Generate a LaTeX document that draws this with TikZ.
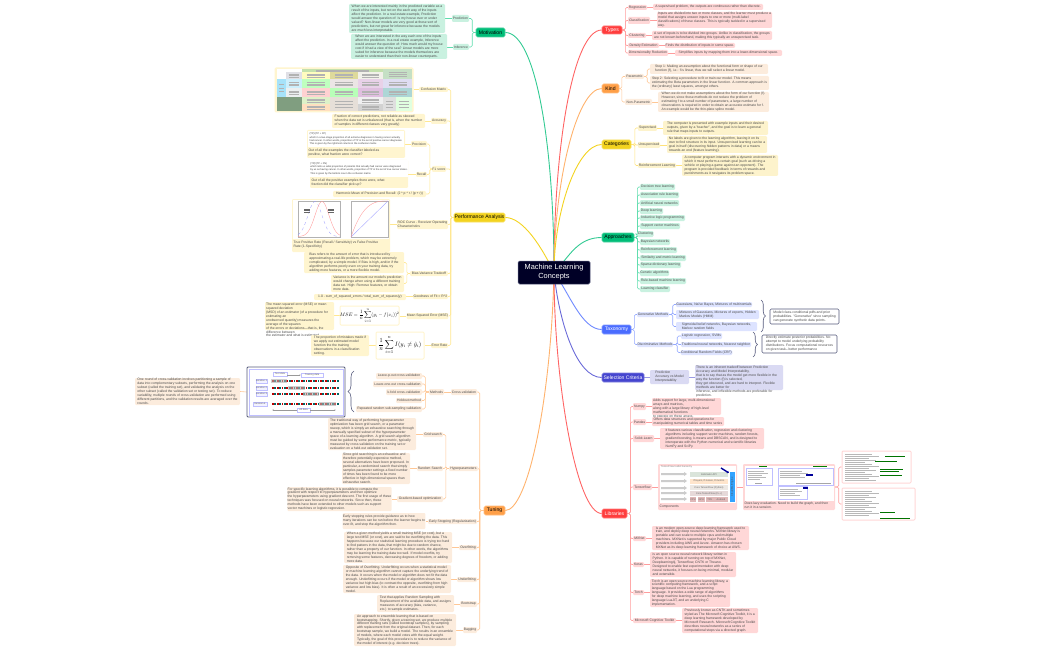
\documentclass[tikz,border=0pt]{standalone}
\usepackage{fontspec}
\setmainfont{Liberation Sans}
\usetikzlibrary{backgrounds,calc,decorations.pathreplacing,arrows.meta}
\definecolor{txt}{HTML}{4A4A4A}
\definecolor{fmot}{HTML}{C9F1E0}\definecolor{lmot}{HTML}{5FDDAE}
\definecolor{fper}{HTML}{FFF5CF}\definecolor{lper}{HTML}{FFE78F}
\definecolor{ftun}{HTML}{FCECDD}\definecolor{ltun}{HTML}{FFC795}
\definecolor{ftyp}{HTML}{FFD7D7}\definecolor{ltyp}{HTML}{FF9C9C}
\definecolor{fcat}{HTML}{FDF3CC}\definecolor{lcat}{HTML}{FFE27A}
\definecolor{ftax}{HTML}{DDE3FF}\definecolor{ltax}{HTML}{93A8FF}
\definecolor{fsel}{HTML}{DADAF3}\definecolor{lsel}{HTML}{9A9AE4}
\definecolor{slate}{HTML}{565A7C}
\definecolor{yelm}{HTML}{F3D31F}\definecolor{oram}{HTML}{FF9F47}\definecolor{redm}{HTML}{FF3D3D}\definecolor{grem}{HTML}{00BD78}\definecolor{blum}{HTML}{4A6CFF}\definecolor{indm}{HTML}{4545CF}
\newcommand{\tfn}{\fontsize{3.38}{3.95}\selectfont}
\newcommand{\mfn}{\fontsize{5.1}{6}\selectfont}
\newcommand{\sfn}{\fontsize{2.5}{3.1}\selectfont}
\tikzset{
 lab/.style={rectangle,rounded corners=1.2pt,inner sep=0.4pt,align=left,font=\tfn,text=txt},
 mot/.style={lab,fill=fmot}, per/.style={lab,fill=fper}, tun/.style={lab,fill=ftun},
 typ/.style={lab,fill=ftyp}, cat/.style={lab,fill=fcat}, tax/.style={lab,fill=ftax}, sel/.style={lab,fill=fsel},
 mainn/.style={rectangle,rounded corners=1.5pt,inner sep=0pt,font=\mfn,align=center,draw=#1!70!white,fill=#1,line width=0.6pt},
 wht/.style={rectangle,fill=white,inner sep=0.5pt,align=left,font=\sfn,text=black!75},
 imgp/.style={rectangle,rounded corners=1pt,draw=fper,line width=1pt,fill=white,inner sep=0pt},
 imgl/.style={rectangle,rounded corners=1pt,draw=ftyp,line width=1pt,fill=white,inner sep=0pt},
 note/.style={rectangle,rounded corners=1.2pt,draw=slate,line width=0.6pt,fill=white,inner sep=0.5pt,align=left,font=\tfn,text=txt},
 tree/.style={line width=0.6pt,rounded corners=1.5pt},
 bigl/.style={line width=0.9pt},
 mini/.style={rectangle,inner sep=0pt,font=\sfn,text=black!60,align=center},
}
\newcommand{\bx}[7]{\pgfmathsetlengthmacro\bw{(#4-#2)*1pt}\pgfmathsetlengthmacro\bh{(#5-#3)*1pt}%
 \node[#6,minimum width=\bw,minimum height=\bh] (#1) at ({(#2+#4)/2},{(#3+#5)/2}) {#7};}
\newcommand{\ovr}[7]{\pgfmathsetlengthmacro\bw{(#4-#2)*1pt}\pgfmathsetlengthmacro\bh{(#5-#3)*1pt}%
 \node[#6,minimum width=\bw,minimum height=\bh] (#1) at ({(#2+#4)/2},{(#3+#5)/2}) {};
 \node[#6,fill=none,anchor=north west] (#1t) at ({#2+0.6},{#3+0.3}) {#7};}
\newcommand{\brR}[4]{\draw[#1,tree] (#2.east) -- ++(#4,0) |- (#3.west);}
\newcommand{\brL}[4]{\draw[#1,tree] (#2.west) -- ++(-#4,0) |- (#3.east);}
\newcommand{\stR}[3]{\draw[#1,tree] (#2.east) -- (#2.east -| #3.west);}
\newcommand{\stL}[3]{\draw[#1,tree] (#2.west) -- (#2.west -| #3.east);}
\newcommand{\cel}[5]{\fill[fill=#5] (#1,#3) rectangle (#2,#4);
 \foreach \k in {0.3,0.5,0.7}{\draw[line width=0.3pt,black!30] ({#1+(#2-#1)*0.18},{#3+(#4-#3)*\k}) -- ({#2-(#2-#1)*0.18},{#3+(#4-#3)*\k});}}
\newcommand{\codel}[4]{\foreach \k in {1,...,#3}{\draw[line width=0.3pt,black!28] (#1,{#2+(\k-1)*2}) -- ({#1+#4*(0.6+0.4*mod(\k*7,5)/4)},{#2+(\k-1)*2});}}
\begin{document}
\begin{tikzpicture}[x=1pt,y=-1pt]
\useasboundingbox (0,0) rectangle (1050,650);
% ---------- centre
\bx{ctr}{518}{261}{590}{284}{rectangle,rounded corners=1.5pt,fill=black!85!blue,draw=slate,line width=0.5pt,text=white,font=\fontsize{7.4}{9}\selectfont,align=center}{Machine Learning\\Concepts}
% ---------- Motivation
\bx{motiv}{476}{28}{505}{37}{mainn=grem}{Motivation}
\bx{mPred}{452}{15}{469}{22}{mot}{Prediction}
\bx{mInf}{453}{44}{469}{50}{mot}{Inference}
\bx{mPredT}{349}{4}{445}{33}{mot}{When we are interested mainly in the predicted variable as a\\result of the inputs, but not on the each way of the inputs\\affect the prediction. In a real estate example, Prediction\\would answer the question of: Is my house over or under\\valued? Non-linear models are very good at these sort of\\predictions, but not great for inference because the models\\are much less interpretable.}
\bx{mInfT}{351}{34}{447}{59}{mot}{When we are interested in the way each one of the inputs\\affect the prediction. In a real estate example, Inference\\would answer the question of: How much would my house\\cost if it had a view of the sea? Linear models are more\\suited for inference because the models themselves are\\easier to understand than their non-linear counterparts.}
% ---------- Performance
\bx{perf}{454}{213}{505}{222}{mainn=yelm}{Performance Analysis}
\bx{pConf}{419}{87}{448}{92}{per}{Confusion Matrix}
\bx{pConfI}{275}{68}{413}{112}{imgp,fill=fper}{}
\begin{scope}[shift={(260,0)},x=0.33333pt,y=-0.33333pt]
\fill[white] (52,208) rectangle (457,333);
\cel{125}{370}{208}{216}{olive!35!green!30}
\cel{78}{125}{216}{237}{blue!10!gray!22}
\cel{125}{210}{216}{237}{yellow!25}
\cel{210}{293}{216}{237}{olive!30!white}
\cel{293}{370}{216}{237}{yellow!20!gray!15}
\cel{370}{457}{208}{237}{green!30!gray!35}
\cel{52}{78}{237}{290}{cyan!35}
\cel{78}{125}{237}{265}{cyan!20}
\cel{125}{210}{237}{265}{green!25!white}
\cel{210}{293}{237}{265}{red!12!gray!18}
\cel{293}{370}{237}{265}{violet!18}
\cel{370}{457}{237}{265}{cyan!15!blue!12}
\cel{78}{125}{265}{290}{cyan!12!gray!15}
\cel{125}{210}{265}{290}{red!18}
\cel{210}{293}{265}{290}{green!28!white}
\cel{293}{370}{265}{290}{violet!25}
\cel{370}{457}{265}{290}{teal!32}
\fill[black!40!green!25!gray!80] (52,290) rectangle (125,333);
\cel{125}{210}{290}{312}{yellow!40!green!22}
\cel{125}{210}{312}{333}{orange!25}
\cel{210}{293}{290}{333}{orange!22!gray!25}
\cel{293}{370}{290}{312}{blue!5!gray!12}
\cel{293}{370}{312}{333}{gray!35}
\cel{370}{407}{290}{333}{gray!25}
\cel{407}{457}{290}{333}{green!12}
\end{scope}
\bx{pAcc}{431}{118}{447}{124}{per}{Accuracy}
\bx{pAccT}{332}{114}{425}{128}{per}{Fraction of correct predictions, not reliable as skewed\\when the data set is unbalanced (that is, when the number\\of samples in different classes vary greatly)}
\bx{pF}{432}{166}{446}{172}{per}{F1 score}
\bx{pPrec}{411}{141}{427}{147}{per}{Precision}
\bx{pPrecT}{307}{130}{405}{158}{per}{}
\bx{pPrecW}{308}{131}{404}{147}{wht}{(TP)/(TP + FP)\\which in a two-stage proportion of all extreme diagnoses in having cancer actually\\had cancer. In other words, proportion of TP in the set of positive cancer diagnoses.\\This is given by the rightmost column in the confusion matrix.}
\node[per,fill=none,anchor=north west] (pPrecQ) at (308,148.5) {Out of all the examples the classifier labeled as\\positive, what fraction were correct?};
\bx{pRec}{416}{172}{427}{177}{per}{Recall}
\bx{pRecT}{310}{160}{408}{188}{per}{}
\bx{pRecW}{311}{160.5}{407}{177}{wht}{(TP)/(TP + FN)\\which tells us what proportion of patients that actually had cancer were diagnosed\\by us as having cancer. In other words, proportion of TP in the set of true cancer states.\\This is given by the bottom row in the confusion matrix.}
\node[per,fill=none,anchor=north west] (pRecQ) at (311,178.5) {Out of all the positive examples there were, what\\fraction did the classifier pick up?};
\bx{pHarm}{333}{191}{426}{197}{per}{Harmonic Mean of Precision and Recall: (2 * p * r / (p + r))}
\bx{pRoc}{397}{220}{448}{229}{per}{ROC Curve - Receiver Operating\\Characteristics}
\bx{pRocI}{292}{199}{390}{252}{per}{}
\fill[white] (293,200) rectangle (389,239);
\draw[line width=0.3pt,black!30] (298,201) rectangle (340,237);
\draw[line width=0.3pt,black!30] (351,201) rectangle (388,237);
\draw[blue!40,line width=0.3pt,dashed] plot[domain=298:340,samples=40] (\x,{236.5-35*exp(-((\x-315)*(\x-315))/98)});
\draw[red!40,line width=0.35pt] plot[domain=298:340,samples=40] (\x,{236.5-35*exp(-((\x-322)*(\x-322))/98)});
\foreach \yy in {209,210.5,212}{\draw[line width=0.3pt,black!60] (304,\yy) -- (310,\yy);\draw[line width=0.3pt,black!60] (328,\yy) -- (334,\yy);}
\draw[blue!40,line width=0.3pt] (351,237) -- (388,201);
\draw[red!40,line width=0.35pt] plot[domain=351:388,samples=30] (\x,{237-36*(1-((388-\x)/37)*((388-\x)/37)*((388-\x)/37))});
\node[per,fill=none,anchor=north west] (pRocT) at (293,240.5) {True Positive Rate (Recall / Sensitivity) vs False Positive\\Rate (1-Specificity)};
\bx{pBV}{410}{271}{448}{276}{per}{Bias-Variance Tradeoff}
\bx{pBias}{304}{252}{404}{273}{per}{Bias refers to the amount of error that is introduced by\\approximating a real-life problem, which may be extremely\\complicated, by a simple model. If Bias is high, and/or if the\\algorithm performs poorly even on your training data, try\\adding more features, or a more flexible model.}
\bx{pVar}{331}{275}{404}{292}{per}{Variance is the amount our model's prediction\\would change when using a different training\\data set. High: Remove features, or obtain\\more data.}
\bx{pGood}{413}{294}{448}{299}{per}{Goodness of Fit = R\textasciicircum 2}
\bx{pGoodT}{314}{294}{406}{300}{per}{1.0 - sum\_of\_squared\_errors / total\_sum\_of\_squares(y)}
\bx{pMse}{407}{313}{448}{319}{per}{Mean Squared Error (MSE)}
\bx{pMseI}{340}{306}{399}{325}{imgp}{}
\node[scale=0.5,inner sep=0pt] (pMseF) at (pMseI.center) {$\displaystyle MSE=\frac{1}{n}\sum_{i=1}^{n}(y_i-f(x_i))^2$};
\ovr{pMseT}{265}{302}{334}{330}{per}{The mean squared error (MSE) or mean\\squared deviation\\ (MSD) of an estimator (of a procedure for\\estimating an\\ unobserved quantity) measures the\\average of the squares\\ of the errors or deviations—that is, the\\difference between\\ the estimator and what is estimated.}
\bx{pErr}{431}{343}{448}{348}{per}{Error Rate}
\bx{pErrI}{376}{332}{424}{359}{imgp}{}
\node[scale=0.62,inner sep=0pt] (pErrF) at (pErrI.center) {$\displaystyle \frac{1}{n}\sum_{i=1}^{n}I(y_i\neq\hat y_i)$};
\bx{pErrT}{311}{335}{369}{356}{per}{The proportion of mistakes made if\\we apply out estimated model\\function the the training\\observations in a classification\\setting.}
% ---------- Tuning
\bx{tune}{484}{506}{505}{515}{mainn=oram}{Tuning}
\bx{tCV}{451}{389}{477}{395}{tun}{Cross-validation}
\bx{tMeth}{429}{389}{444}{395}{tun}{Methods}
\bx{tM1}{376}{373}{422}{379}{tun}{Leave-p-out cross-validation}
\bx{tM2}{373}{381}{422}{387}{tun}{Leave-one-out cross-validation}
\bx{tM3}{386}{389}{422}{395}{tun}{k-fold cross-validation}
\bx{tM4}{396}{398}{422}{403}{tun}{Holdout method}
\bx{tM5}{356}{406}{422}{412}{tun}{Repeated random sub-sampling validation}
\bx{tCVI}{247}{367}{345}{417}{rectangle,rounded corners=1pt,draw=slate,line width=0.8pt,fill=white}{}
\draw[blue!25,line width=0.6pt] (249,369) rectangle (343,415);
\bx{tCVT}{135}{378}{240}{405}{tun}{One round of cross-validation involves partitioning a sample of\\data into complementary subsets, performing the analysis on one\\subset (called the training set), and validating the analysis on the\\other subset (called the validation set or testing set). To reduce\\variability, multiple rounds of cross-validation are performed using\\different partitions, and the validation results are averaged over the\\rounds.}
\bx{cvTest}{273}{372}{287}{376}{mini,draw=blue!25,line width=0.3pt,fill=white}{Test data}
\bx{cvTrain}{301}{373}{323}{377}{mini,draw=blue!25,line width=0.3pt,fill=white}{Training data}
\bx{cvAll}{297}{408}{310}{412}{mini,draw=blue!25,line width=0.3pt,fill=white}{All data}
\bx{cvI1}{256}{379}{267}{383}{mini,draw=blue!25,line width=0.3pt,fill=blue!5}{Iteration 1}
\bx{cvI2}{256}{386}{267}{390}{mini,draw=blue!25,line width=0.3pt,fill=blue!5}{Iteration 2}
\bx{cvI3}{256}{392}{267}{396}{mini,draw=blue!25,line width=0.3pt,fill=blue!5}{Iteration 3}
\bx{cvIk}{253}{402}{267}{406}{mini,draw=blue!25,line width=0.3pt,fill=blue!5}{Iteration k}
\foreach \ry/\ta/\tb in {381/271/287,388/288/305,394/303/319,404/319/336}{
 \foreach \i in {0,...,27}{
  \pgfmathsetmacro\xx{272+\i*2.4}
  \pgfmathtruncatemacro\mm{mod(\i,2)}
  \ifnum\mm=0 \fill[red!75!black] (\xx,\ry-1) rectangle ++(1.8,2); \else \fill[teal!80!black] (\xx,\ry-1) rectangle ++(1.8,2); \fi}
 \fill[gray!60,opacity=.6] (\ta,\ry-2) rectangle (\tb,\ry+2);}
\draw[black!40,line width=0.3pt,-{Latex[length=1.5pt]}] (287,375) -- (301,375);
\draw[black!40,line width=0.3pt,{Latex[length=1.5pt]}-] (272,410) -- (297,410);
\draw[black!40,line width=0.3pt,-{Latex[length=1.5pt]}] (310,410) -- (336,410);
\bx{tHyp}{449}{466}{478}{471}{tun}{Hyperparameters}
\bx{tGrid}{423}{432}{443}{437}{tun}{Grid search}
\bx{tGridT}{328}{418}{416}{450}{tun}{The traditional way of performing hyperparameter\\optimization has been grid search, or a parameter\\sweep, which is simply an exhaustive searching through\\a manually specified subset of the hyperparameter\\space of a learning algorithm. A grid search algorithm\\must be guided by some performance metric, typically\\measured by cross-validation on the training set or\\evaluation on a held-out validation set.}
\bx{tRand}{417}{466}{443}{471}{tun}{Random Search}
\bx{tRandT}{342}{453}{410}{484}{tun}{Since grid searching is an exhaustive and\\therefore potentially expensive method,\\several alternatives have been proposed. In\\particular, a randomized search that simply\\samples parameter settings a fixed number\\of times has been found to be more\\effective in high-dimensional spaces than\\exhaustive search.}
\bx{tGrad}{397}{496}{443}{502}{tun}{Gradient-based optimization}
\bx{tGradT}{288}{487}{391}{511}{tun}{For specific learning algorithms, it is possible to compute the\\gradient with respect to hyperparameters and then optimize\\the hyperparameters using gradient descent. The first usage of these\\techniques was focused on neural networks. Since then, these\\methods have been extended to other models such as support\\vector machines or logistic regression.}
\bx{tEarly}{428}{519}{477}{524}{tun}{Early Stopping (Regularization)}
\bx{tEarlyT}{346}{513}{422}{529}{tun}{Early stopping rules provide guidance as to how\\many iterations can be run before the learner begins to\\over-fit, and stop the algorithm then.}
\bx{tOver}{459}{545}{477}{550}{tun}{Overfitting}
\bx{tOverT}{344}{532}{452}{563}{tun}{When a given method yields a small training MSE (or cost), but a\\large test MSE (or cost), we are said to be overfitting the data. This\\happens because our statistical learning procedure is trying too hard\\to find pattens in the data, that might be due to random chance,\\rather than a property of our function. In other words, the algorithms\\may be learning the training data too well. If model overfits, try\\removing some features, decreasing degrees of freedom, or adding\\more data.}
\bx{tUnder}{457}{577}{477}{582}{tun}{Underfitting}
\bx{tUnderT}{343}{565}{451}{593}{tun}{Opposite of Overfitting. Underfitting occurs when a statistical model\\or machine learning algorithm cannot capture the underlying trend of\\the data. It occurs when the model or algorithm does not fit the data\\enough. Underfitting occurs if the model or algorithm shows low\\variance but high bias (to contrast the opposite, overfitting from high\\variance and low bias). It is often a result of an excessively simple\\model.}
\bx{tBoot}{460}{601}{477}{607}{tun}{Bootstrap}
\bx{tBootT}{377}{595}{454}{612}{tun}{Test that applies Random Sampling with\\Replacement of the available data, and assigns\\measures of accuracy (bias, variance,\\etc.) to sample estimates.}
\bx{tBag}{463}{627}{477}{633}{tun}{Bagging}
\bx{tBagT}{354}{614}{456}{646}{tun}{An approach to ensemble learning that is based on\\bootstrapping. Shortly, given a training set, we produce multiple\\different training sets (called bootstrap samples), by sampling\\with replacement from the original dataset. Then, for each\\bootstrap sample, we build a model. The results in an ensemble\\of models, where each model votes with the equal weight.\\Typically, the goal of this procedure is to reduce the variance of\\the model of interest (e.g. decision trees).}
% ---------- Types
\bx{types}{602}{26}{622}{34}{mainn=redm,text=white}{Types}
\bx{yReg}{628}{5}{647}{10}{typ}{Regression}
\bx{yRegT}{653}{4}{763}{10}{typ}{A supervised problem, the outputs are continuous rather than discrete.}
\bx{yCla}{628}{17}{650}{24}{typ}{Classification}
\bx{yClaT}{657}{12}{772}{28}{typ}{Inputs are divided into two or more classes, and the learner must produce a\\model that assigns unseen inputs to one or more (multi-label\\classifications) of these classes. This is typically tackled in a supervised\\way.}
\bx{yClu}{628}{33}{646}{38}{typ}{Clustering}
\bx{yCluT}{652}{31}{772}{40}{typ}{A set of inputs is to be divided into groups. Unlike in classification, the groups\\are not known beforehand, making this typically an unsupervised task.}
\bx{yDen}{628}{43}{659}{48}{typ}{Density Estimation}
\bx{yDenT}{665}{43}{735}{48}{typ}{Finds the distribution of inputs in some space.}
\bx{yDim}{628}{50}{668}{56}{typ}{Dimensionality Reduction}
\bx{yDimT}{675}{50}{782}{56}{typ}{Simplifies inputs by mapping them into a lower-dimensional space.}
% ---------- Kind
\bx{kind}{602}{84}{619}{93}{mainn=oram}{Kind}
\bx{kPar}{625}{74}{644}{79}{tun}{Parametric}
\bx{kS1}{650}{64}{768}{74}{tun}{Step 1: Making an assumption about the functional form or shape of our\\function (f), i.e.: f is linear, thus we will select a linear model.}
\bx{kS2}{650}{76}{769}{90}{tun}{Step 2: Selecting a procedure to fit or train our model. This means\\estimating the Beta parameters in the linear function. A common approach is\\the (ordinary) least squares, amongst others.}
\bx{kNon}{625}{99}{652}{105}{tun}{Non-Parametric}
\bx{kNonT}{658}{92}{769}{112}{tun}{When we do not make assumptions about the form of our function (f).\\However, since these methods do not reduce the problem of\\estimating f to a small number of parameters, a large number of\\observations is required in order to obtain an accurate estimate for f.\\An example would be the thin-plate spline model.}
% ---------- Categories
\bx{cats}{602}{140}{631}{149}{mainn=yelm}{Categories}
\bx{cSup}{638}{125}{657}{131}{cat}{Supervised}
\bx{cSupT}{663}{121}{768}{135}{cat}{The computer is presented with example inputs and their desired\\outputs, given by a "teacher", and the goal is to learn a general\\rule that maps inputs to outputs.}
\bx{cUns}{638}{142}{660}{148}{cat}{Unsupervised}
\bx{cUnsT}{667}{136}{767}{153}{cat}{No labels are given to the learning algorithm, leaving it on its\\own to find structure in its input. Unsupervised learning can be a\\goal in itself (discovering hidden patterns in data) or a means\\towards an end (feature learning).}
\bx{cRei}{638}{163}{676}{168}{cat}{Reinforcement Learning}
\bx{cReiT}{682}{155}{778}{176}{cat}{A computer program interacts with a dynamic environment in\\which it must perform a certain goal (such as driving a\\vehicle or playing a game against an opponent). The\\program is provided feedback in terms of rewards and\\punishments as it navigates its problem space.}
% ---------- Approaches
\bx{appr}{602}{233}{634}{242}{mainn=grem}{Approaches}
\bx{a1}{640}{184}{675}{190}{mot}{Decision tree learning}
\bx{a2}{640}{192}{679}{198}{mot}{Association rule learning}
\bx{a3}{640}{200}{679}{206}{mot}{Artificial neural networks}
\bx{a4}{640}{208}{663}{214}{mot}{Deep learning}
\bx{a5}{640}{215}{685}{221}{mot}{Inductive logic programming}
\bx{a6}{640}{223}{680}{229}{mot}{Support vector machines}
\bx{a7}{640}{231}{651}{237}{mot}{Clustering}
\bx{a8}{640}{239}{670}{245}{mot}{Bayesian networks}
\bx{a9}{640}{247}{677}{253}{mot}{Reinforcement learning}
\bx{a10}{640}{255}{686}{261}{mot}{Similarity and metric learning}
\bx{a11}{640}{262}{681}{268}{mot}{Sparse dictionary learning}
\bx{a12}{640}{270}{669}{276}{mot}{Genetic algorithms}
\bx{a13}{640}{278}{686}{284}{mot}{Rule-based machine learning}
\bx{a14}{640}{286}{670}{292}{mot}{Learning classifier}
% ---------- Taxonomy
\bx{taxo}{602}{325}{631}{334}{mainn=blum,text=white}{Taxonomy}
\bx{xGen}{637}{312}{669}{317}{tax}{Generative Methods}
\bx{xDis}{637}{342}{673}{347}{tax}{Discriminative Methods}
\bx{xG1}{676}{302}{752}{307}{tax}{Gaussians, Naïve Bayes, Mixtures of multinomials}
\bx{xG2}{676}{310}{759}{319}{tax}{Mixtures of Gaussians, Mixtures of experts, Hidden\\Markov Models (HMM)}
\bx{xG3}{676}{322}{757}{331}{tax}{Sigmoidal belief networks, Bayesian networks,\\Markov random fields}
\bx{xD1}{681}{333}{722}{339}{tax}{Logistic regression, SVMs}
\bx{xD2}{681}{342}{751}{347}{tax}{Traditional neural networks, Nearest neighbor}
\bx{xD3}{681}{350}{732}{355}{tax}{Conditional Random Fields (CRF)}
\bx{xNG}{770}{309}{839}{324}{note}{Model class-conditional pdfs and prior\\probabilities. "Generative" since sampling\\can generate synthetic data points.}
\bx{xND}{762}{335}{837}{353}{note}{Directly estimate posterior probabilities. No\\attempt to model underlying probability\\distributions. Focus computational resources\\on given task– better performance}
% ---------- Selection
\bx{selc}{602}{373}{644}{382}{mainn=indm,text=white}{Selection Criteria}
\bx{sPA}{650}{370}{689}{384}{sel}{Prediction\\Accuracy vs Model\\Interpretability}
\ovr{sPAT}{695}{365}{783}{390}{sel}{There is an inherent tradeoff between Prediction\\Accuracy and Model Interpretability,\\that is to say that as the model get more flexible in the\\way the function (f) is selected,\\they get obscured, and are hard to interpret. Flexible\\methods are better for\\ inference, and inflexible methods are preferable for\\prediction.}
% ---------- Libraries
\bx{libs}{602}{509}{627}{518}{mainn=redm,text=white}{Libraries}
\bx{lNum}{633}{403}{646}{410}{typ}{Numpy}
\ovr{lNumT}{652}{398}{721}{415}{typ}{Adds support for large, multi-dimensional\\arrays and matrices,\\ along with a large library of high-level\\mathematical functions\\to operate on these arrays.}
\bx{lPan}{633}{419}{646}{425}{typ}{Pandas}
\bx{lPanT}{652}{417}{724}{426}{typ}{Offers data structures and operations for\\manipulating numerical tables and time series}
\bx{lSci}{633}{435}{654}{442}{typ}{Scikit-Learn}
\bx{lSciT}{660}{428}{764}{449}{typ}{It features various classification, regression and clustering\\algorithms including support vector machines, random forests,\\gradient boosting, k-means and DBSCAN, and is designed to\\interoperate with the Python numerical and scientific libraries\\NumPy and SciPy.}
\bx{lTf}{633}{484}{652}{490}{typ}{Tensorflow}
\bx{lTf1}{658}{464}{737}{510}{typ}{}
\fill[white] (660,465.5) rectangle (735.5,503);
\node[mini,anchor=west,text=black!50] (tfTitle) at (661,467) {TensorFlow toolkit hierarchy};
\foreach \yy in {474,481,488,493,499}{\fill[black!20] (661,\yy-1) -- (684,\yy-1) -- (684,\yy-2) -- (687,\yy) -- (684,\yy+2) -- (684,\yy+1) -- (661,\yy+1) -- cycle;}
\bx{tfA}{690}{472}{728}{477}{mini,fill=green!15!gray!25}{Estimator API}
\bx{tfB}{690}{478.5}{728}{483.5}{mini,fill=orange!20}{tf.layers, tf.losses, tf.metrics}
\bx{tfC}{690}{485}{728}{490}{mini,fill=orange!18!gray!18}{Core TensorFlow (Python)}
\bx{tfD}{690}{491}{728}{496}{mini,fill=red!20!gray!25}{Core TensorFlow (C++)}
\bx{tfE}{690}{497}{696}{502}{mini,fill=red!40!gray!40}{CPU}
\bx{tfF}{697.5}{497}{705}{502}{mini,fill=red!40!gray!40}{GPU}
\bx{tfG}{706}{497}{713.5}{502}{mini,fill=red!40!gray!40}{TPU}
\bx{tfH}{714}{497}{728}{502}{mini,fill=red!40!gray!40}{Android}
\bx{tfCol}{730}{472}{734.5}{502}{rectangle,inner sep=0pt,fill=blue!45!cyan!80}{}
\node[rotate=90,font=\sfn,text=black!70,inner sep=0pt] (tfColT) at (tfCol.center) {Cloud ML Engine};
\draw[blue!60!black,line width=1.4pt,-{Latex[length=2pt,width=3pt]}] (721,468) -- (729,473);
\node[typ,fill=none,anchor=west] (tfComp) at (659,507) {Components};
\bx{lTf2}{743}{464}{835}{510}{typ}{}
\fill[white] (745,465.5) rectangle (833.5,500.5);
\draw[blue!25,line width=0.5pt] (746,468) rectangle (772,485);
\draw[blue!25,line width=0.5pt] (778,468) rectangle (833,485);
\draw[blue!25,line width=0.5pt] (778,486) rectangle (807,499);
\draw[green!50!black,line width=0.6pt] (759,466) -- (767,466);
\draw[green!50!black,line width=0.6pt] (813,466) -- (827,466);
\codel{748}{471}{5}{20}\codel{780}{471}{4}{28}\codel{780}{489}{4}{22}
\draw[line width=0.3pt,black!35] (755,483) -- (762,483);
\draw[line width=0.3pt,black!35] (796,483) -- (831,483);
\fill[blue!60!black] (806,474) rectangle (813,476);
\fill[blue!60!black] (803,487) rectangle (808,489);
\node[typ,fill=none,anchor=north west] (tfLazy) at (744,501.5) {Does lazy evaluation. Need to build the graph, and then\\run it in a session.};
\bx{lTf3}{842}{451}{911}{483}{imgl}{}
\codel{845}{454}{14}{34}
\foreach \yy/\xa/\xb in {456/885/905,461/875/897,469/880/903,475/880/902,471/880/899}{\draw[green!45!black,line width=0.4pt] (\xa,\yy) -- (\xb,\yy);}
\bx{lTf4}{842}{488}{915}{520}{imgl}{}
\codel{845}{491}{13}{34}
\foreach \yy/\xa/\xb in {512/880/895,518/880/910}{\draw[green!45!black,line width=0.4pt] (\xa,\yy) -- (\xb,\yy);}
\bx{lMx}{633}{536}{646}{541}{typ}{MXNet}
\bx{lMxT}{652}{526}{749}{550}{typ}{is an modern open-source deep learning framework used to\\train, and deploy deep neural networks. MXNet library is\\portable and can scale to multiple cpus and multiple\\machines. MXNet is supported by major Public Cloud\\providers including AWS and Azure. Amazon has chosen\\MXNet as its deep learning framework of choice at AWS.}
\bx{lKe}{633}{562}{644}{567}{typ}{Keras}
\bx{lKeT}{650}{552}{736}{577}{typ}{is an open source neural network library written in\\Python. It is capable of running on top of MXNet,\\Deeplearning4j, Tensorflow, CNTK or Theano.\\Designed to enable fast experimentation with deep\\neural networks, it focuses on being minimal, modular\\and extensible.}
\bx{lTo}{633}{590}{644}{595}{typ}{Torch}
\bx{lToT}{650}{579}{730}{607}{typ}{Torch is an open source machine learning library, a\\scientific computing framework, and a script\\language based on the Lua programming\\language. It provides a wide range of algorithms\\for deep machine learning, and uses the scripting\\language LuaJIT, and an underlying C\\implementation.}
\bx{lMs}{633}{618}{676}{623}{typ}{Microsoft Cognitive Toolkit}
\bx{lMsT}{682}{608}{758}{633}{typ}{Previously known as CNTK and sometimes\\styled as The Microsoft Cognitive Toolkit, it is a\\deep learning framework developed by\\Microsoft Research. Microsoft Cognitive Toolkit\\describes neural networks as a series of\\computational steps via a directed graph.}
% ---------- braces
\coordinate (bCVa) at (354,412); \coordinate (bCVb) at (354,371);
\coordinate (bGa) at (761,300); \coordinate (bGb) at (761,332);
\coordinate (bDa) at (753,332); \coordinate (bDb) at (753,357);
\draw[slate,line width=0.6pt,decorate,decoration={brace,amplitude=6pt}] (bCVa) -- (bCVb);
\draw[slate,line width=0.6pt,decorate,decoration={brace,amplitude=4.5pt}] (bGa) -- (bGb);
\draw[slate,line width=0.6pt,decorate,decoration={brace,amplitude=4.5pt}] (bDa) -- (bDb);
% ---------- connectors
\begin{scope}[on background layer]
\draw[grem!80,bigl] (motiv.east) .. controls +(30,0) and +(0,-130) .. (ctr.center);
\draw[yelm,bigl] (perf.east) .. controls +(18,0) and +(-12,-25) .. (ctr.center);
\draw[oram!80,bigl] (tune.east) .. controls +(22,0) and +(-3,130) .. (ctr.center);
\draw[redm!80,bigl] (types.west) .. controls +(-28,0) and +(0,-130) .. (ctr.center);
\draw[oram!80,bigl] (kind.west) .. controls +(-25,0) and +(0,-90) .. (ctr.center);
\draw[yelm,bigl] (cats.west) .. controls +(-25,0) and +(0,-60) .. (ctr.center);
\draw[grem!80,bigl] (appr.west) .. controls +(-25,0) and +(15,-15) .. (ctr.center);
\draw[blum!80,bigl] (taxo.west) .. controls +(-20,0) and +(15,20) .. (ctr.center);
\draw[indm!80,bigl] (selc.west) .. controls +(-25,0) and +(5,50) .. (ctr.center);
\draw[redm!80,bigl] (libs.west) .. controls +(-25,0) and +(0,110) .. (ctr.center);
% Motivation
\foreach \c in {mPred,mInf}{\brL{lmot}{motiv}{\c}{3.5}}
\stL{lmot}{mPred}{mPredT}\stL{lmot}{mInf}{mInfT}
% Performance
\foreach \c in {pConf,pAcc,pF,pRoc,pBV,pGood,pMse,pErr}{\brL{lper}{perf}{\c}{3}}
\stL{lper}{pConf}{pConfI}\stL{lper}{pAcc}{pAccT}
\foreach \c in {pPrec,pRec,pHarm}{\brL{lper}{pF}{\c}{2}}
\stL{lper}{pPrec}{pPrecT}\stL{lper}{pRec}{pRecT}
\stL{lper}{pRoc}{pRocI}
\foreach \c in {pBias,pVar}{\brL{lper}{pBV}{\c}{3}}
\stL{lper}{pGood}{pGoodT}\stL{lper}{pMse}{pMseI}\stL{lper}{pMseI}{pMseT}
\stL{lper}{pErr}{pErrI}\stL{lper}{pErrI}{pErrT}
% Tuning
\foreach \c in {tCV,tHyp,tEarly,tOver,tUnder,tBoot,tBag}{\brL{ltun}{tune}{\c}{4}}
\stL{ltun}{tCV}{tMeth}
\foreach \c in {tM1,tM2,tM3,tM4,tM5}{\brL{ltun}{tMeth}{\c}{3.5}}
\foreach \c in {tGrid,tRand,tGrad}{\brL{ltun}{tHyp}{\c}{3}}
\stL{ltun}{tGrid}{tGridT}\stL{ltun}{tRand}{tRandT}\stL{ltun}{tGrad}{tGradT}
\stL{ltun}{tEarly}{tEarlyT}\stL{ltun}{tOver}{tOverT}\stL{ltun}{tUnder}{tUnderT}\stL{ltun}{tBoot}{tBootT}\stL{ltun}{tBag}{tBagT}
\draw[ltun,tree] (tCVI.west) -- (tCVT.east);
% Types
\foreach \c in {yReg,yCla,yClu,yDen,yDim}{\brR{ltyp}{types}{\c}{3}}
\stR{ltyp}{yReg}{yRegT}\stR{ltyp}{yCla}{yClaT}\stR{ltyp}{yClu}{yCluT}\stR{ltyp}{yDen}{yDenT}\stR{ltyp}{yDim}{yDimT}
% Kind
\foreach \c in {kPar,kNon}{\brR{ltun}{kind}{\c}{2.5}}
\foreach \c in {kS1,kS2}{\brR{ltun}{kPar}{\c}{3}}
\stR{ltun}{kNon}{kNonT}
% Categories
\foreach \c in {cSup,cUns,cRei}{\brR{lcat}{cats}{\c}{3.5}}
\stR{lcat}{cSup}{cSupT}\stR{lcat}{cUns}{cUnsT}\stR{lcat}{cRei}{cReiT}
% Approaches
\foreach \c in {a1,a2,a3,a4,a5,a6,a7,a8,a9,a10,a11,a12,a13,a14}{\brR{lmot}{appr}{\c}{3}}
% Taxonomy
\foreach \c in {xGen,xDis}{\brR{ltax}{taxo}{\c}{3}}
\foreach \c in {xG1,xG2,xG3}{\brR{ltax}{xGen}{\c}{3.5}}
\foreach \c in {xD1,xD2,xD3}{\brR{ltax}{xDis}{\c}{4}}
% Selection
\stR{lsel}{selc}{sPA}\stR{lsel}{sPA}{sPAT}
% Libraries
\foreach \c in {lNum,lPan,lSci,lTf,lMx,lKe,lTo,lMs}{\brR{ltyp}{libs}{\c}{3}}
\stR{ltyp}{lNum}{lNumT}\stR{ltyp}{lPan}{lPanT}\stR{ltyp}{lSci}{lSciT}
\stR{ltyp}{lTf}{lTf1}\stR{ltyp}{lTf1}{lTf2}
\foreach \c in {lTf3,lTf4}{\brR{ltyp}{lTf2}{\c}{3.5}}
\stR{ltyp}{lMx}{lMxT}\stR{ltyp}{lKe}{lKeT}\stR{ltyp}{lTo}{lToT}\stR{ltyp}{lMs}{lMsT}
\end{scope}
\end{tikzpicture}
\end{document}
